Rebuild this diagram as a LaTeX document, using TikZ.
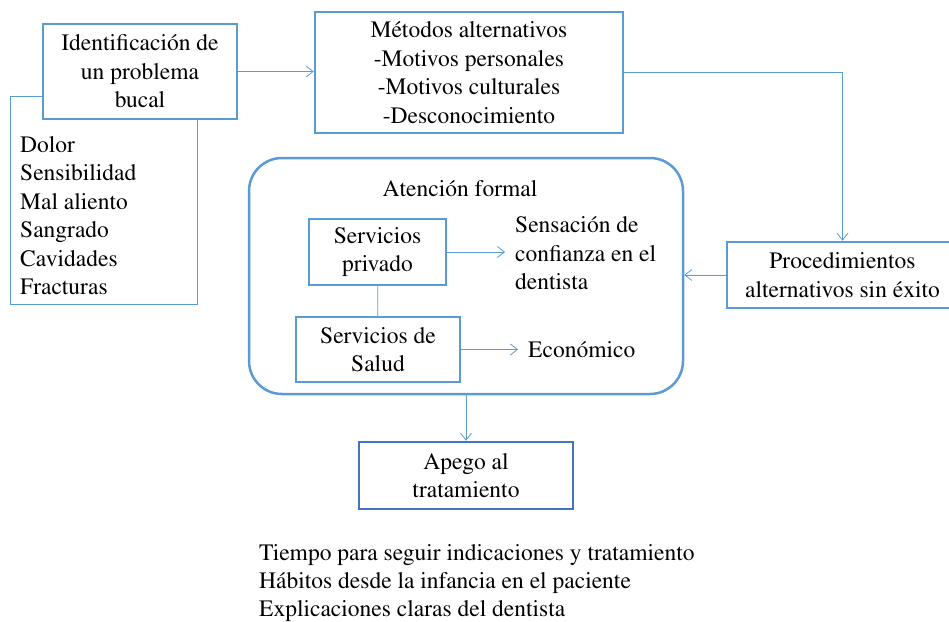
\documentclass[tikz,border=0pt]{standalone}
\usepackage[T1]{fontenc}
\usepackage{mathptmx}
\usepackage{xcolor}
\usepackage{tikz}
\usetikzlibrary{positioning, arrows.meta}
\definecolor{azulcaja}{RGB}{91,155,213}
\definecolor{azulfuerte}{RGB}{68,114,196}
\tikzstyle{caja} = [rectangle, draw=azulcaja, line width=2.5pt, fill=white, align=center, inner sep=0pt]
\tikzstyle{texto} = [inner sep=0pt, align=left]
\tikzstyle{linea} = [draw=azulcaja, line width=0.8pt]
\tikzstyle{flecha} = [linea, -{Straight Barb[length=7pt,width=11pt]}]
\tikzstyle{every node}=[font=\fontsize{23.5}{28.5}\selectfont]

\begin{document}
\begin{tikzpicture}[x=1pt,y=-1pt]
		\clip (0,0) rectangle (949,621);
		\node (sintomas) [rectangle, draw=azulcaja, line width=1pt, minimum width=187pt, minimum height=208pt] at (104.3,200) {};
		\node (lista) [texto, anchor=north west] at (20,136) {Dolor\\Sensibilidad\\Mal aliento\\Sangrado\\Cavidades\\Fracturas};
		\node (ident) [caja, minimum width=194pt, minimum height=95pt] at (140,71.5) {Identificación de\\un problema\\bucal};
		\node (metodos) [caja, minimum width=308pt, minimum height=121pt] at (469,72.5) {Métodos alternativos\\-Motivos personales\\-Motivos culturales\\-Desconocimiento};
		\node (proc) [caja, minimum width=231pt, minimum height=66pt] at (842.5,275) {Procedimientos\\alternativos sin éxito};
		
		\node (formal) [caja, rounded corners=33pt, minimum width=434pt, minimum height=236pt] at (466,276) {};
		\node (formaltitulo) [texto] at (460,189) {Atención formal};
		\node (privado) [caja, minimum width=137pt, minimum height=66pt] at (377.5,252) {Servicios\\privado};
		\node (salud) [caja, minimum width=164pt, minimum height=65pt] at (378,349.5) {Servicios de\\Salud};
		\node (confianza) [texto, inner xsep=10pt, anchor=west] at (505,253.5) {Sensación de\\confianza en el\\dentista};
		\node (economico) [texto, inner xsep=10pt, anchor=west] at (518,350) {Económico};
		
		\node (apego) [caja, draw=azulfuerte, minimum width=214pt, minimum height=67pt] at (466,475.5) {Apego al\\tratamiento};
		\node (factores) [texto, anchor=north west, font=\fontsize{23.5}{28}\selectfont] at (259,544) {Tiempo para seguir indicaciones y tratamiento\\Hábitos desde la infancia en el paciente\\Explicaciones claras del dentista};
		% conexiones
		\draw [flecha] (ident.east) -- (ident.east -| metodos.west);
		\draw [flecha] (metodos.east) -| (proc.north);
		\draw [flecha] (proc.west) -- (proc.west -| formal.east);
		\draw [linea] (privado) -- (salud);
		\draw [flecha] (privado.east) -- (privado.east -| confianza.west);
		\draw [flecha] (salud.east) -- (salud.east -| economico.west);
		\draw [flecha] (formal) -- (apego);
\end{tikzpicture}
\end{document}
